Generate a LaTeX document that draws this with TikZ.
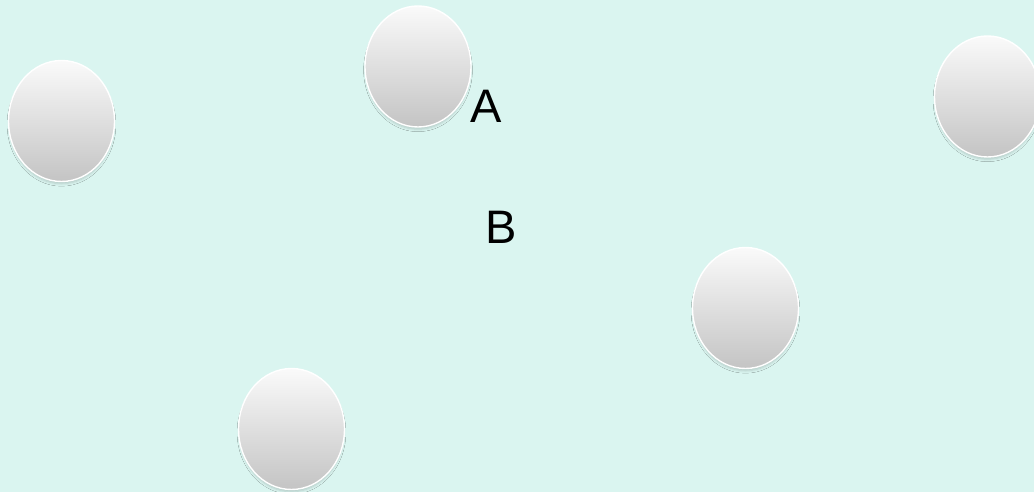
\documentclass[tikz,border=0pt]{standalone}
\usepackage{fontspec}
\setmainfont{Liberation Sans}
\usetikzlibrary{shapes.geometric,shadows.blur}
\definecolor{bgmint}{RGB}{218,245,240}
\definecolor{ballTop}{RGB}{250,250,250}
\definecolor{ballMid}{RGB}{236,236,236}
\definecolor{ballBot}{RGB}{196,196,196}
\begin{document}
\begin{tikzpicture}[x=1pt,y=-1pt,
  ball/.style={ellipse,minimum width=106pt,minimum height=121pt,inner sep=0pt,
    draw=white,line width=1.4pt,top color=ballTop,middle color=ballMid,bottom color=ballBot,
    blur shadow={shadow xshift=0pt,shadow yshift=-3.5pt,shadow opacity=18,shadow blur radius=2.5pt,shadow scale=0.98}},
  lab/.style={font=\fontsize{47}{56}\selectfont,text=black,inner sep=0pt,anchor=base}]
\fill[bgmint] (0,0) rectangle (1034,492);
\useasboundingbox (0,0) rectangle (1034,492);
\node[ball] (b1) at (418,66.5) {};
\node[ball] (b2) at (61.5,121) {};
\node[ball] (b3) at (987.5,96.5) {};
\node[ball] (b4) at (745.5,308) {};
\node[ball] (b5) at (291.5,429) {};
\node[lab] (la) at (486,123) {A};
\node[lab] (lb) at (501,243) {B};
\end{tikzpicture}
\end{document}
